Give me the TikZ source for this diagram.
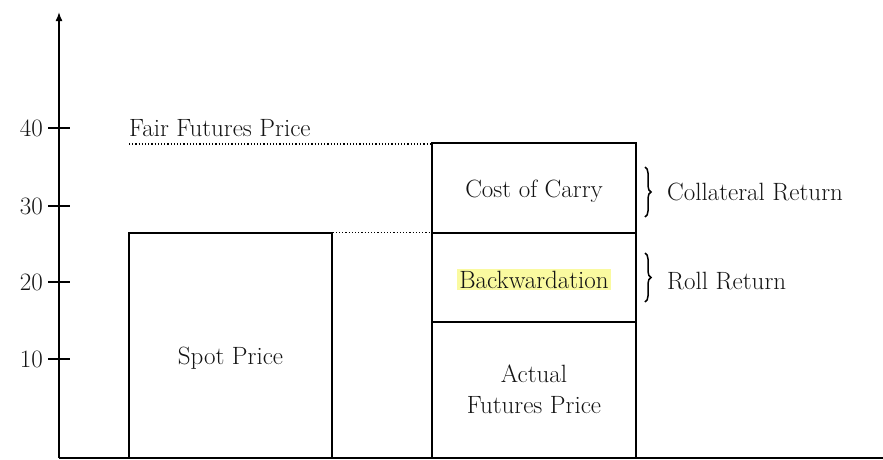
\documentclass[tikz,border=0pt]{standalone}
\usepackage{tikz}
\usetikzlibrary{arrows.meta,decorations.pathreplacing}
\definecolor{hilite}{RGB}{250,250,160}
\tikzset{box/.style={draw, line width=1.3pt, inner sep=0pt},
         lbl/.style={text=black!92, font=\fontsize{25}{31}\selectfont},
         guide/.style={dotted, line width=1.2pt},
         bracket/.style={decorate, decoration={brace, amplitude=6pt}, line width=1.5pt}}

\begin{document}
\begin{tikzpicture}[x=1pt, y=-1pt]
                \useasboundingbox (0,0) rectangle (883,459);
                % axes
                \coordinate (origin) at (59,458);
                \coordinate (ytop)   at (59,12);
                \coordinate (xend)   at (883,458);
                \draw[line width=1.6pt, -{Latex[length=9pt,width=7pt]}] (origin) -- (ytop);
                \draw[line width=1.2pt] (origin) -- (xend);
                \foreach \v/\y in {10/359,20/282,30/206,40/128} {
                  \draw[line width=1.6pt] (48,\y) -- (70,\y);
                  \node[lbl, anchor=east, inner sep=0pt] (tick\v) at (43,\y) {\v};
                }
                % boxes
                \node[box, minimum width=203pt, minimum height=225pt] (spot)   at (230.5,345.5) {};
                \node[box, minimum width=204pt, minimum height=90pt]  (carry)  at (534,188) {};
                \node[box, minimum width=204pt, minimum height=89pt]  (backw)  at (534,277.5) {};
                \node[box, minimum width=204pt, minimum height=136pt] (actual) at (534,390) {};
                % texts
                \node[lbl] (spotlbl) at ([yshift=-13pt]spot.center) {Spot Price};
                \node[lbl] (carrylbl) at ([yshift=-3pt]carry.center) {Cost of Carry};
                \node[lbl, fill=hilite, inner xsep=2pt, inner ysep=2pt] (backwlbl) at ([yshift=-2pt]backw.center) {Backwardation};
                \node[lbl, align=center] (actuallbl) at ([yshift=1pt]actual.center) {Actual\\Futures Price};
                \node[lbl, anchor=base west, inner sep=0pt] (fair) at (129,136) {Fair Futures Price};
                % guides
                \coordinate (fairstart) at (129,144);
                \draw[guide] (fairstart) -- (fairstart -| carry.west);
                \draw[guide] (spot.north east) -- (backw.north west);
                % braces
                \coordinate (b1) at (645,167);
                \coordinate (b2) at (645,217);
                \coordinate (b3) at (645,253);
                \coordinate (b4) at (645,302);
                \draw[bracket] (b1) -- (b2);
                \draw[bracket] (b3) -- (b4);
                \node[lbl, anchor=west, inner sep=0pt] (collat) at (667,192) {Collateral Return};
                \node[lbl, anchor=west, inner sep=0pt] (roll) at (667,281) {Roll Return};
              \end{tikzpicture}
\end{document}
